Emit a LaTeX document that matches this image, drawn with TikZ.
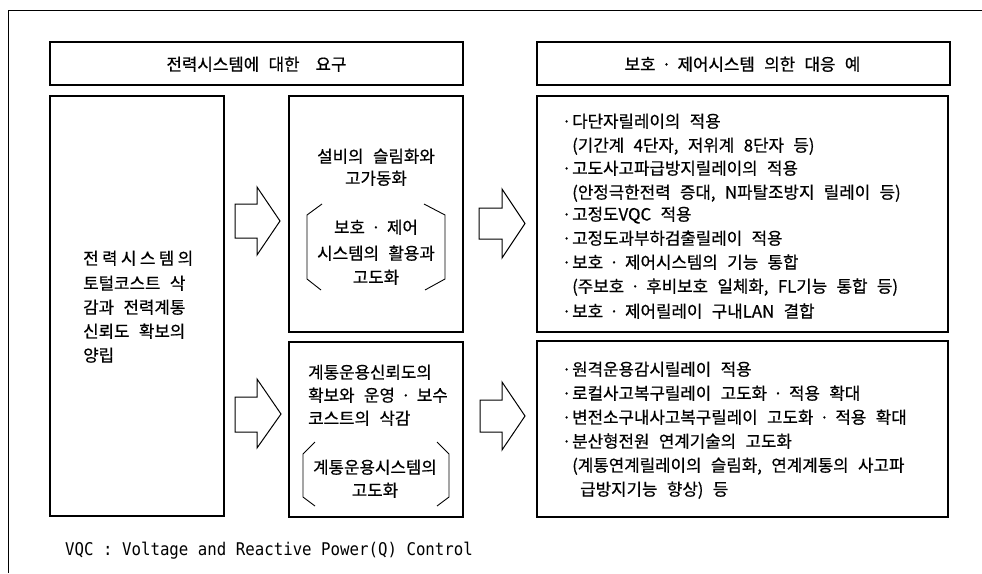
\documentclass[tikz,border=0pt]{standalone}
\usepackage{fontspec}
\setmainfont{Noto Sans CJK KR}[WordSpace=2.5, FakeBold=0.6]
\newfontfamily\footfont{DejaVu Sans Mono}[FakeStretch=0.9]
\newcommand\bulletmk{\makebox[11pt][c]{·}}
\newcommand\contind{\hspace*{11pt}}
\newcommand\mdt{\makebox[22pt][c]{·}}
\begin{document}
\begin{tikzpicture}[x=1pt,y=-1pt,
  frame/.style={line width=1pt},
  box/.style={draw, line width=1.1pt, inner sep=0pt},
  barrow/.style={draw, line width=1pt, line join=miter},
  brk/.style={draw, line width=0.9pt},
  txt/.style={anchor=base west, inner sep=0pt, font=\fontsize{16.8}{20}\selectfont},
  ctxt/.style={anchor=base, inner sep=0pt, font=\fontsize{16.8}{20}\selectfont}]
\useasboundingbox (0,0) rectangle (982,573);
% outer frame (top and left edges)
\draw[frame] (8,573) -- (8,10) -- (982,10);
% boxes
\node[box, minimum width=413pt, minimum height=43pt] (hl) at (256.5,63.5) {};
\node[box, minimum width=413pt, minimum height=43pt] (hr) at (743.5,63.5) {};
\node[box, minimum width=174pt, minimum height=420pt] (lb) at (137,306) {};
\node[box, minimum width=174pt, minimum height=236pt] (mt) at (376,214) {};
\node[box, minimum width=174pt, minimum height=175pt] (mb) at (376,429.5) {};
\node[box, minimum width=411pt, minimum height=236pt] (rt) at (742.5,214) {};
\node[box, minimum width=411pt, minimum height=176pt] (rb) at (742.5,429) {};
% block arrows
\draw[barrow] (235,204) -- (257,204) -- (257,187) -- (280,221) -- (257,255) -- (257,238) -- (235,238) -- cycle;
\draw[barrow] (235,397) -- (257,397) -- (257,379) -- (281,414) -- (257,448) -- (257,432) -- (235,432) -- cycle;
\draw[barrow] (479,208) -- (502,208) -- (502,189) -- (525,223.5) -- (502,258) -- (502,239) -- (479,239) -- cycle;
\draw[barrow] (480,400) -- (502,400) -- (502,382) -- (525,416) -- (502,450) -- (502,432) -- (480,432) -- cycle;
% brackets
\draw[brk] (322,204) -- (307,215) -- (307,279) -- (321,290);
\draw[brk] (424,204) -- (445,215) -- (445,279) -- (425,290);
\draw[brk] (315,442) -- (303,454) -- (303,497) -- (315,506);
\draw[brk] (437,442) -- (449,454) -- (449,497) -- (437,506);
% headers
\node[ctxt] (hlt) at (256.5,70.5) {전력시스템에 대한\hspace{16pt}요구};
\node[ctxt] (hrt) at (742.5,70.5) {보호\mdt 제어시스템 의한 대응 예};
% left box text
\node[txt] (l1) at (83,264.5) {\makebox[110pt][s]{전\hfill 력\hfill 시\hfill 스\hfill 템\hfill 의}};
\node[txt] (l2) at (83,289.5) {토털코스트 삭};
\node[txt] (l3) at (83,313.5) {감과 전력계통};
\node[txt] (l4) at (83,337.5) {신뢰도 확보의};
\node[txt] (l5) at (83,361.5) {양립};
% middle top text
\node[ctxt] (m1) at (376,162.5) {설비의 슬림화와};
\node[ctxt] (m2) at (376,184.5) {고가동화};
\node[ctxt] (m3) at (376,233.5) {보호\mdt 제어};
\node[ctxt] (m4) at (376,259.5) {시스템의 활용과};
\node[ctxt] (m5) at (376,283.5) {고도화};
% middle bottom text
\node[txt] (n1) at (308,378.5) {계통운용신뢰도의};
\node[txt] (n2) at (308,401.5) {확보와 운영\mdt 보수};
\node[txt] (n3) at (308,424.5) {코스트의 삭감};
\node[ctxt] (n4) at (375,473.5) {계통운용시스템의};
\node[ctxt] (n5) at (375,496.5) {고도화};
% right top list
\foreach \yy/\tx [count=\i] in {
  127.5/{\bulletmk 다단자릴레이의 적용},
  151.5/{\contind(기간계 4단자, 저위계 8단자 등)},
  174.5/{\bulletmk 고도사고파급방지릴레이의 적용},
  198.5/{\contind(안정극한전력 증대, N파탈조방지 릴레이 등)},
  220.5/{\bulletmk 고정도VQC 적용},
  244.5/{\bulletmk 고정도과부하검출릴레이 적용},
  268.5/{\bulletmk 보호\mdt 제어시스템의 기능 통합},
  292.5/{\contind(주보호\mdt 후비보호 일체화, FL기능 통합 등)},
  317.5/{\bulletmk 보호\mdt 제어릴레이 구내LAN 결합}}
  {\node[txt] (r\i) at (561,\yy) {\tx};}
% right bottom list
\foreach \yy/\tx [count=\i] in {
  375.5/{\bulletmk 원격운용감시릴레이 적용},
  399.5/{\bulletmk 로컬사고복구릴레이 고도화\mdt 적용 확대},
  423.5/{\bulletmk 변전소구내사고복구릴레이 고도화\mdt 적용 확대},
  447.5/{\bulletmk 분산형전원 연계기술의 고도화},
  471.5/{\contind(계통연계릴레이의 슬림화, 연계계통의 사고파},
  495.5/{\contind\hspace*{8pt}급방지기능 향상) 등}}
  {\node[txt] (s\i) at (561,\yy) {\tx};}
% footnote
\node[anchor=base west, inner sep=0pt, font=\footfont\fontsize{17.5}{20}\selectfont] (foot) at (65,555) {VQC : Voltage and Reactive Power(Q) Control};
\end{tikzpicture}
\end{document}
